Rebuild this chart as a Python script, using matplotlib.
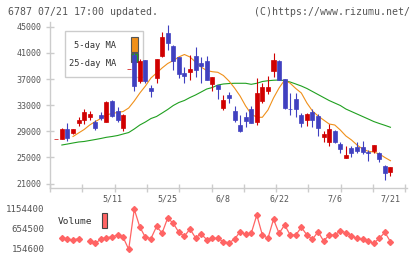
import numpy as np
import matplotlib
matplotlib.use('Agg')
import matplotlib.pyplot as plt
from matplotlib.patches import Rectangle
from matplotlib.transforms import blended_transform_factory

nan = np.nan

# daily candles (oldest first), last one is 7/21
opens = [27780, 27830, 29360, 28700, 30230, 30690, 31150, 30380, 31500, 30430,
         33690, 32160, 29470, 38530, 40700, 36700, 39910, 35580, 37110, 40570,
         43990, 42050, 40410, 37970, 38070, 40520, 39500, 39800, 36240, 36090,
         32610, 34560, 32110, 29970, 31150, 32420, 30480, 33690, 35210, 38270,
         39800, 37000, 32420, 33950, 31500, 30730, 31910, 31350, 28090, 27320,
         29050, 27070, 24970, 26410, 26560, 26560, 25890, 26040, 25640, 23700,
         22830]
highs = [27780, 29500, 30320, 29400, 31240, 32370, 32160, 30730, 31910, 33600,
         33840, 32680, 31650, 38530, 41000, 40010, 39910, 36090, 40060, 44240,
         45260, 42200, 40410, 38880, 40670, 41940, 40410, 40520, 37350, 36090,
         34560, 35060, 32870, 31500, 32000, 32870, 37110, 36440, 37460, 40930,
         39910, 37000, 34820, 34820, 31760, 31760, 32370, 31610, 29050, 30080,
         29200, 27420, 26760, 26760, 27420, 27530, 26150, 26910, 25890, 23850,
         23600]
lows = [27780, 27830, 27570, 28650, 29820, 30080, 30690, 29200, 30730, 30430,
        31200, 30480, 29100, 38530, 35210, 36350, 36350, 34200, 36350, 40370,
        41430, 38380, 37110, 36350, 36850, 37350, 36350, 36850, 35210, 33950,
        32260, 33290, 30480, 28950, 29710, 30320, 29970, 33290, 34710, 37260,
        36850, 32370, 31500, 31240, 29710, 29860, 29710, 28290, 27420, 26810,
        27170, 25730, 24970, 25120, 25730, 25490, 24510, 25640, 24360, 21560,
        22170]
closes = [27780, 29360, 28030, 29360, 30690, 31910, 31650, 29470, 31090, 33440,
          31350, 30730, 31530, 38530, 35980, 39750, 36700, 35210, 40060, 43470,
          42550, 39800, 37770, 37510, 38530, 38380, 38990, 36850, 37350, 35480,
          33790, 34150, 30730, 29100, 30630, 30320, 34910, 35830, 35830, 39910,
          36850, 32520, 32370, 32370, 30230, 31650, 30730, 29470, 28590, 29360,
          27420, 26300, 25380, 25640, 26040, 25800, 25730, 26910, 24730, 22580,
          23600]

ma5 = [nan, nan, nan, 28210, 28750, 29280, 29970, 30500, 30960, 31500,
       31730, 31880, 32030, 32570, 33640, 34860, 35930, 37160, 37920, 38690,
       39370, 39830, 40370, 40750, 40370, 39600, 38840, 38300, 38120, 38030,
       37540, 36700, 35630, 34400, 32870, 31650, 31150, 31150, 32260, 34100,
       35630, 36850, 36350, 35550, 34860, 33330, 32110, 31350, 30730, 30120,
       29970, 29200, 28290, 27680, 26910, 26300, 25950, 25840, 25540, 25000,
       24510]
ma25 = [nan, 26910, 27060, 27220, 27370, 27450, 27600, 27750, 27910, 28090,
        28210, 28360, 28590, 28820, 29360, 29970, 30430, 30960, 31270, 31800,
        32340, 32950, 33410, 33720, 34170, 34560, 35010, 35470, 35700, 36080,
        36240, 36310, 36350, 36350, 36350, 36190, 36350, 36620, 36740, 36810,
        36850, 36770, 36540, 36240, 35930, 35550, 35090, 34630, 34170, 33710,
        33330, 32950, 32410, 32030, 31650, 31270, 30890, 30500, 30200, 29920,
        29620]

volume = [nan, 442000, 404600, 379600, 417000, nan, 354600, 292100, 404600, 442000,
          454500, 504500, 447000, 147100, 1146900, 704500, 447000, 417000, 717000, 554500,
          929400, 797000, 572000, 472000, 654500, 434500, 529500, 392000, 422000, 422000,
          337000, 312000, 397000, 587000, 522000, 547000, 1004400, 504500, 422000, 897000,
          547000, 754500, 504500, 504500, 697000, 504500, 397000, 587000, 354600, 504500,
          504500, 604500, 562000, 479500, 422000, 397000, 354600, 297000, 422000, 572000,
          337000]

date_labels = ['5/11', '5/25', '6/8', '6/22', '7/6', '7/21']
date_idx = [10, 20, 30, 40, 50, 60]
price_ticks = [21000, 25000, 29000, 33000, 37000, 41000, 45000]
vol_ticks = [154600, 654500, 1154400]

RED = '#d00000'
BLUE = '#4040c0'
ORANGE = '#f0901a'
GREEN = '#20a020'
PINK = '#ff6464'
GRID = '#cccccc'
TXT = '#555555'
FONT = 'DejaVu Sans Mono'

W, H = 420, 259


def fx(px):
    return px / W


def fy(py):
    return 1 - py / H


o = np.array(opens, dtype=float)
c = np.array(closes, dtype=float)
hi = np.array(highs, dtype=float)
lo = np.array(lows, dtype=float)
x = np.arange(len(c))
colors = np.where(c >= o, RED, BLUE)

fig = plt.figure(figsize=(W / 100, H / 100), dpi=100)

# price panel
ax = fig.add_axes([fx(50), fy(188.3), fx(357), (188.3 - 22) / H])
ax.set_xlim(-1.13, 62.97)
ax.set_ylim(20290, 45720)
for s in ['top', 'right']:
    ax.spines[s].set_visible(False)
for s in ['left', 'bottom']:
    ax.spines[s].set_color(GRID)
    ax.spines[s].set_linewidth(1)

ax.set_yticks(price_ticks)
ax.set_yticklabels([str(v) for v in price_ticks], family=FONT)
ax.set_xticks(-1.13 + 5.8 * np.arange(12))
ax.set_xticklabels([])
ax.tick_params(axis='both', direction='inout', length=6, width=1, color=GRID,
               labelsize=6, labelcolor=TXT, pad=3)

# legend box (candles are drawn over it)
ax.add_patch(Rectangle((fx(65), fy(77)), fx(78.3), 46.3 / H, transform=fig.transFigure,
                       facecolor='white', edgecolor=GRID, lw=1, zorder=1, clip_on=False))
ax.text(fx(116), fy(46), '5-day MA', transform=fig.transFigure, ha='right', va='center',
        fontsize=6.3, color='#333333', family=FONT, zorder=2)
ax.text(fx(116), fy(64), '25-day MA', transform=fig.transFigure, ha='right', va='center',
        fontsize=6.3, color='#333333', family=FONT, zorder=2)
ax.add_patch(Rectangle((fx(131), fy(51.7)), fx(6.7), 15 / H, transform=fig.transFigure,
                       facecolor=ORANGE, edgecolor='#555555', lw=0.8, zorder=2, clip_on=False))
ax.add_patch(Rectangle((fx(131), fy(61.7)), fx(6.7), 8.4 / H, transform=fig.transFigure,
                       facecolor=GREEN, edgecolor='#555555', lw=0.8, zorder=2, clip_on=False))

ax.plot(x, ma25, color=GREEN, lw=0.8, zorder=3)
ax.plot(x, ma5, color=ORANGE, lw=0.8, zorder=3)

ax.vlines(x, lo, hi, colors=colors, lw=0.8, zorder=4)
ax.bar(x, np.abs(c - o), bottom=np.minimum(o, c), width=0.72, color=colors,
       edgecolor=colors, lw=0.5, zorder=5)

tr = blended_transform_factory(ax.transData, fig.transFigure)
for lab, i in zip(date_labels, date_idx):
    ax.text(i, fy(198.5), lab, transform=tr, ha='center', va='center',
            fontsize=6, color=TXT, family=FONT, clip_on=False)

# volume panel
vax = fig.add_axes([fx(50), fy(253), fx(357), 50 / H])
vax.set_xlim(-1.13, 62.97)
vax.set_ylim(54620, 1304370)
for s in vax.spines.values():
    s.set_visible(False)
vax.set_xticks([])
vax.set_yticks(vol_ticks)
vax.set_yticklabels([str(v) for v in vol_ticks], family=FONT)
vax.tick_params(axis='y', length=0, labelsize=6.6, labelcolor=TXT, pad=4)
vax.plot(x, volume, color=PINK, lw=0.9, marker='D', ms=3.0, mec=PINK, mfc=PINK)

fig.text(fx(58), fy(222), 'Volume', ha='left', va='center', fontsize=6.8,
         color='#333333', family=FONT)
fig.add_artist(Rectangle((fx(101.7), fy(228.3)), fx(5.6), 15 / H, transform=fig.transFigure,
                         facecolor=PINK, edgecolor='#444444', lw=0.8))

fig.text(fx(8), fy(12), '6787 07/21 17:00 updated.', ha='left', va='center',
         fontsize=7.1, color=TXT, family=FONT)
fig.text(fx(410), fy(12), '(C)https://www.rizumu.net/', ha='right', va='center',
         fontsize=7.1, color=TXT, family=FONT)

fig.savefig('out.png', dpi=100)
